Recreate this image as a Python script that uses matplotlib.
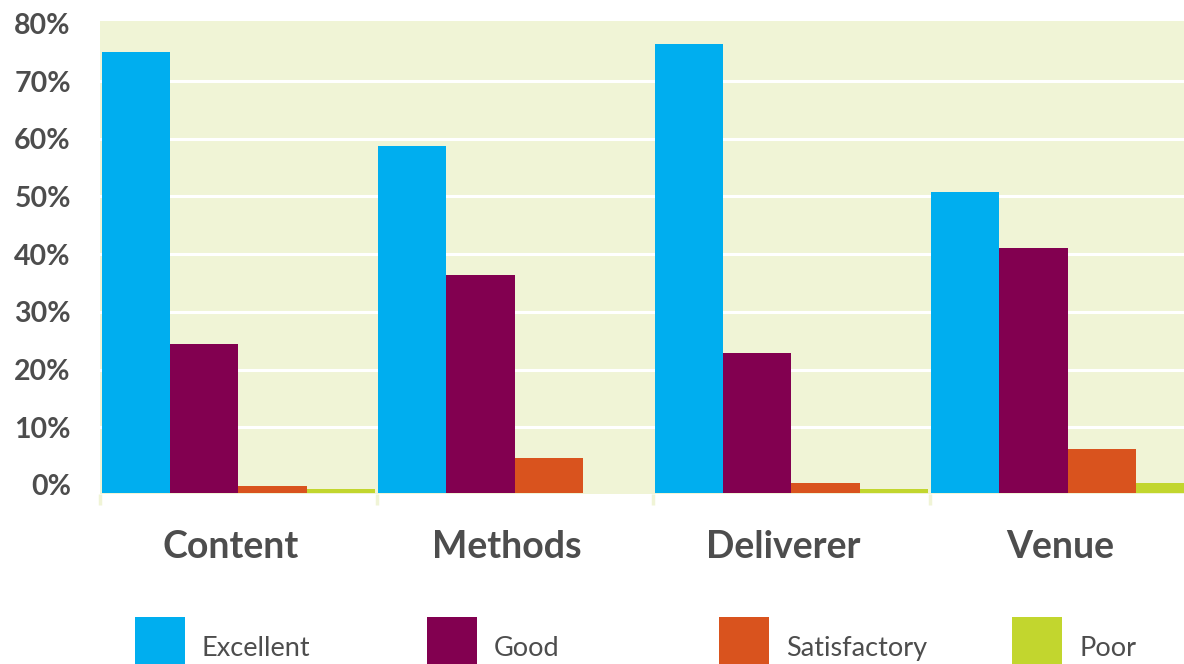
import numpy as np
import matplotlib
matplotlib.use('Agg')
from matplotlib import pyplot as plt
from matplotlib.patches import Rectangle
from matplotlib.transforms import ScaledTranslation

# data (bar heights in %)
categories = ['Content', 'Methods', 'Deliverer', 'Venue']
series = ['Excellent', 'Good', 'Satisfactory', 'Poor']
excellent = [76.4, 60.1, 77.8, 52.1]
good = [25.8, 37.8, 24.3, 42.4]
satisfactory = [1.2, 6.1, 1.7, 7.6]
poor = [0.7, 0.0, 0.7, 1.7]
yticks = [0, 10, 20, 30, 40, 50, 60, 70, 80]
ytick_labels = ['0%', '10%', '20%', '30%', '40%', '50%', '60%', '70%', '80%']

colors = ['#00AEEF', '#820050', '#D9531E', '#C2D62E']
bg = '#F0F4D6'
txt = '#4D4D4D'

plt.rcParams['font.family'] = ['Lato', 'DejaVu Sans']

W, H = 1184, 664
fig = plt.figure(figsize=(W / 100, H / 100), dpi=100)
# axes runs past the right edge of the figure, like the cropped original
ax = fig.add_axes([100 / W, (H - 494) / H, 1106 / W, 473 / H])
ax.set_facecolor(bg)

base = -1.4   # bars start slightly below the 0% line
x = np.arange(len(categories))
bw = 0.247
for i, vals in enumerate([excellent, good, satisfactory, poor]):
    ax.bar(x + (i - 1.5) * bw, vals, bw, bottom=base, color=colors[i],
           linewidth=0, zorder=3)

ax.set_xlim(-0.5, 3.5)
ax.set_ylim(-1.56, 80.4)
for v in yticks[1:-1]:
    ax.axhline(v, color='white', lw=2.2, zorder=1)

for s in ax.spines.values():
    s.set_visible(False)

ax.set_yticks(yticks)
ax.set_yticklabels(ytick_labels, fontsize=20.5, fontweight='bold', color=txt)
ax.tick_params(axis='y', length=0, pad=21)

ax.set_xticks(x)
ax.set_xticklabels(categories, fontsize=27, fontweight='bold', color=txt)
ax.tick_params(axis='x', which='major', length=0, pad=26)
shift = ScaledTranslation(-8 / 100, 0, fig.dpi_scale_trans)
for lab in ax.get_xticklabels():
    lab.set_transform(lab.get_transform() + shift)
ax.set_xticks(np.arange(-0.5, 3.5, 1), minor=True)
ax.tick_params(axis='x', which='minor', length=8, width=2.5, color=bg)

# legend drawn by hand: squares cut by the bottom edge
sq_x = [135, 427, 719, 1012]
for i, name in enumerate(series):
    fig.add_artist(Rectangle((sq_x[i] / W, 0), 50 / W, 47 / H,
                             transform=fig.transFigure, color=colors[i], lw=0))
    fig.text((sq_x[i] + 67) / W, (H - 656) / H, name, fontsize=19.5,
             color=txt, va='baseline', ha='left')

fig.savefig('out.png', dpi=100)
